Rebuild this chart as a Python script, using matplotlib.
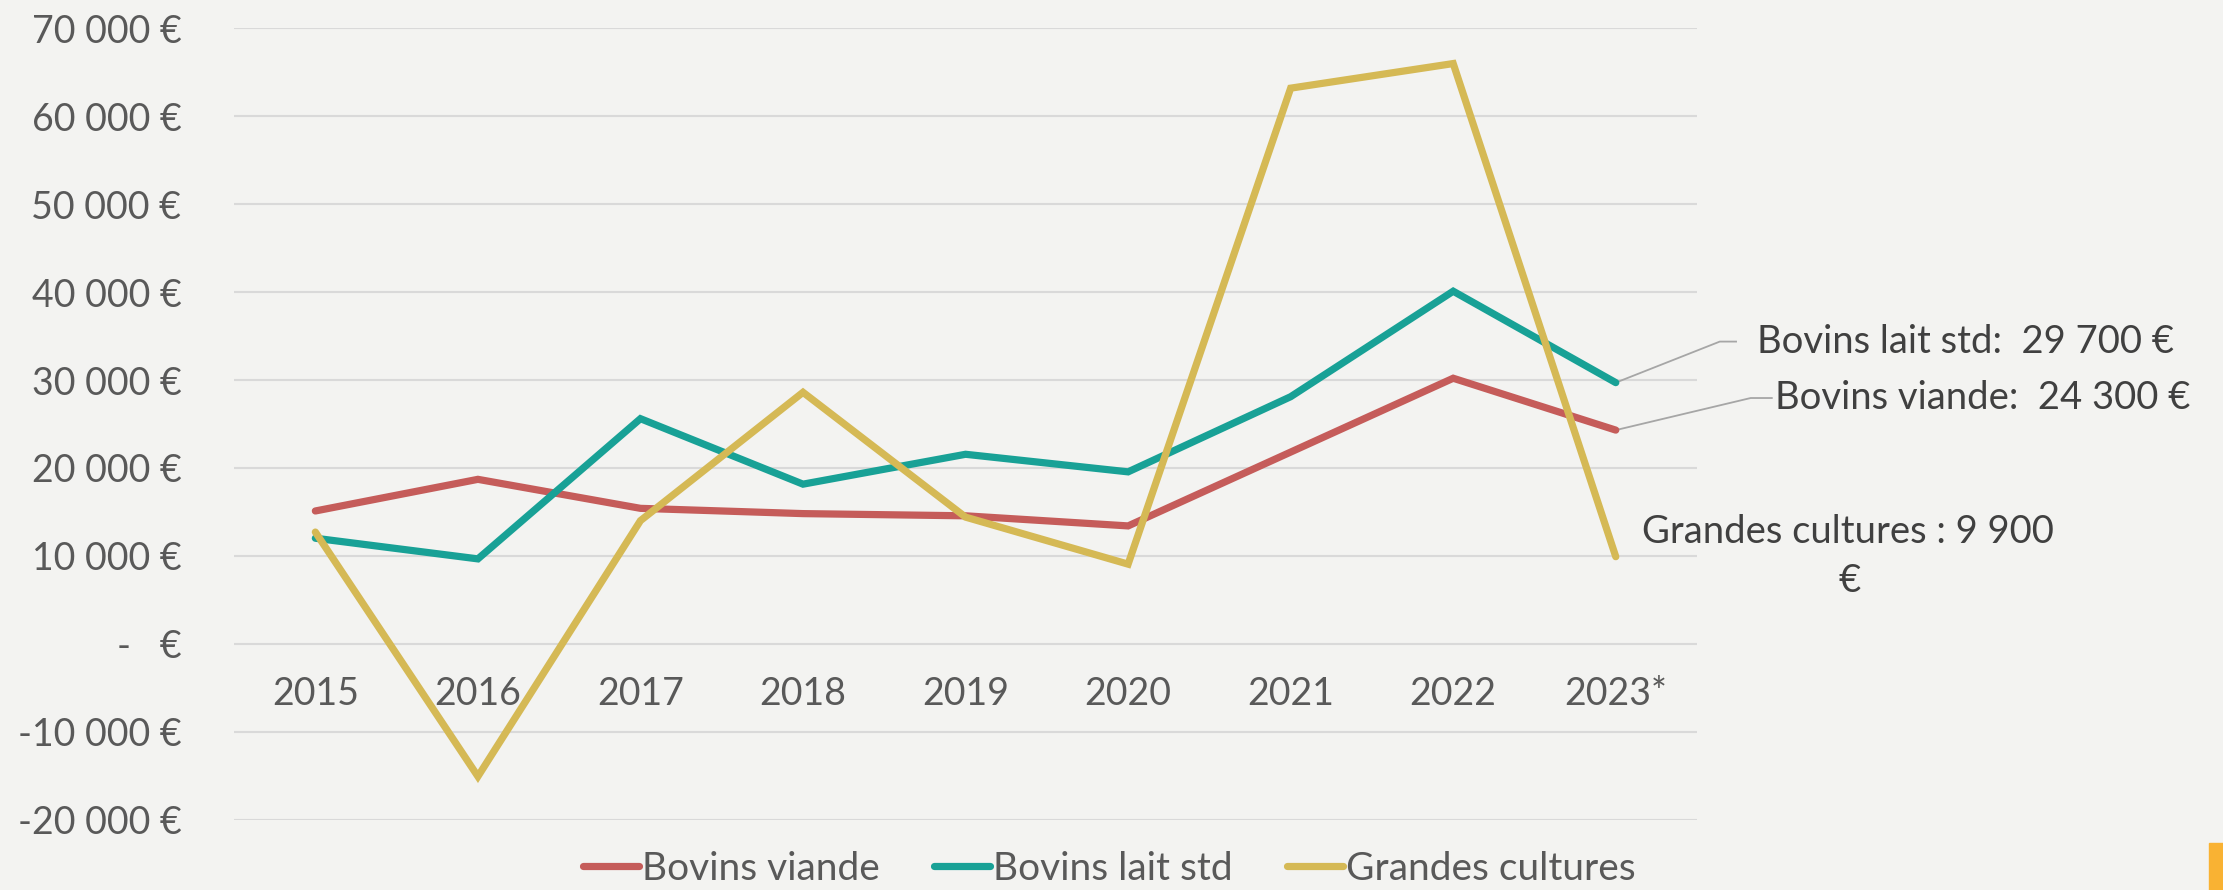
import matplotlib
matplotlib.use('Agg')
from matplotlib import pyplot as plt
from matplotlib.patches import Rectangle

years = ['2015', '2016', '2017', '2018', '2019', '2020', '2021', '2022', '2023*']
bovins_viande = [15100, 18700, 15400, 14800, 14550, 13400, 21800, 30200, 24300]
bovins_lait = [12000, 9650, 25600, 18150, 21550, 19550, 28100, 40100, 29700]
grandes_cultures = [12700, -15100, 14000, 28600, 14400, 9050, 63200, 66000, 9900]

series_names = ['Bovins viande', 'Bovins lait std', 'Grandes cultures']
colors = ['#C55C5A', '#18A196', '#D5B955']

y_ticks = [-20000, -10000, 0, 10000, 20000, 30000, 40000, 50000, 60000, 70000]

BG = '#F3F3F1'
TEXT = '#595959'

plt.rcParams['font.family'] = ['Lato', 'DejaVu Sans']


def euro(v):
    if v == 0:
        return '-   €'
    s = '{:,}'.format(abs(int(v))).replace(',', ' ')
    return ('-' if v < 0 else '') + s + ' €'


fig = plt.figure(figsize=(22.23, 8.9), dpi=100, facecolor=BG)
ax = fig.add_axes([0.1053, 0.0792, 0.6581, 0.8889], facecolor=BG)

x = list(range(len(years)))
for vals, name, c in zip([bovins_viande, bovins_lait, grandes_cultures], series_names, colors):
    ax.plot(x, vals, color=c, linewidth=5.2, label=name, solid_capstyle='round', solid_joinstyle='miter', zorder=3)

ax.set_xlim(-0.5, len(years) - 0.5)
ax.set_ylim(-20000, 70000)
ax.set_yticks(y_ticks)
ax.set_yticklabels([euro(v) for v in y_ticks])
ax.grid(axis='y', color='#D9D9D9', linewidth=1.5, zorder=0)
ax.set_xticks(x)
ax.set_xticklabels(years)
for s in ax.spines.values():
    s.set_visible(False)
ax.spines['bottom'].set_position(('data', 0))
ax.tick_params(axis='y', length=0, pad=38, labelsize=27, labelcolor=TEXT)
ax.tick_params(axis='x', length=0, pad=23, labelsize=27, labelcolor=TEXT)

# leader-line labels at the last point
last = len(years) - 1
labels = [
    ('Bovins lait std:  29 700 €', bovins_lait[last], 34370, 8.64, 8.74, 8.87),
    ('Bovins viande:  24 300 €', bovins_viande[last], 27950, 8.83, 8.96, 8.98),
]
for txt, yv, ty, ex, ee, tx in labels:
    ax.plot([last, ex, ee], [yv, ty, ty], color='#A6A6A6', linewidth=1.3, clip_on=False, zorder=2)
    ax.text(tx, ty, txt, fontsize=27.5, color='#404040', ha='left', va='center', clip_on=False)

ax.text(8.16, 12700, 'Grandes cultures : 9 900', fontsize=27.5, color='#404040', ha='left', va='center')
ax.text(9.44, 7130, '€', fontsize=27.5, color='#404040', ha='center', va='center')

ax.legend(loc='center', bbox_to_anchor=(0.499, 0.0236), bbox_transform=fig.transFigure,
          ncol=3, frameon=False, fontsize=28, labelcolor=TEXT, handlelength=1.45,
          handletextpad=0.08, columnspacing=1.38)

fig.patches.append(Rectangle((2209 / 2223, 0), 14 / 2223, 47 / 890, transform=fig.transFigure,
                             color='#F9B233', zorder=5))

fig.savefig('out.png', dpi=100, facecolor=BG)
